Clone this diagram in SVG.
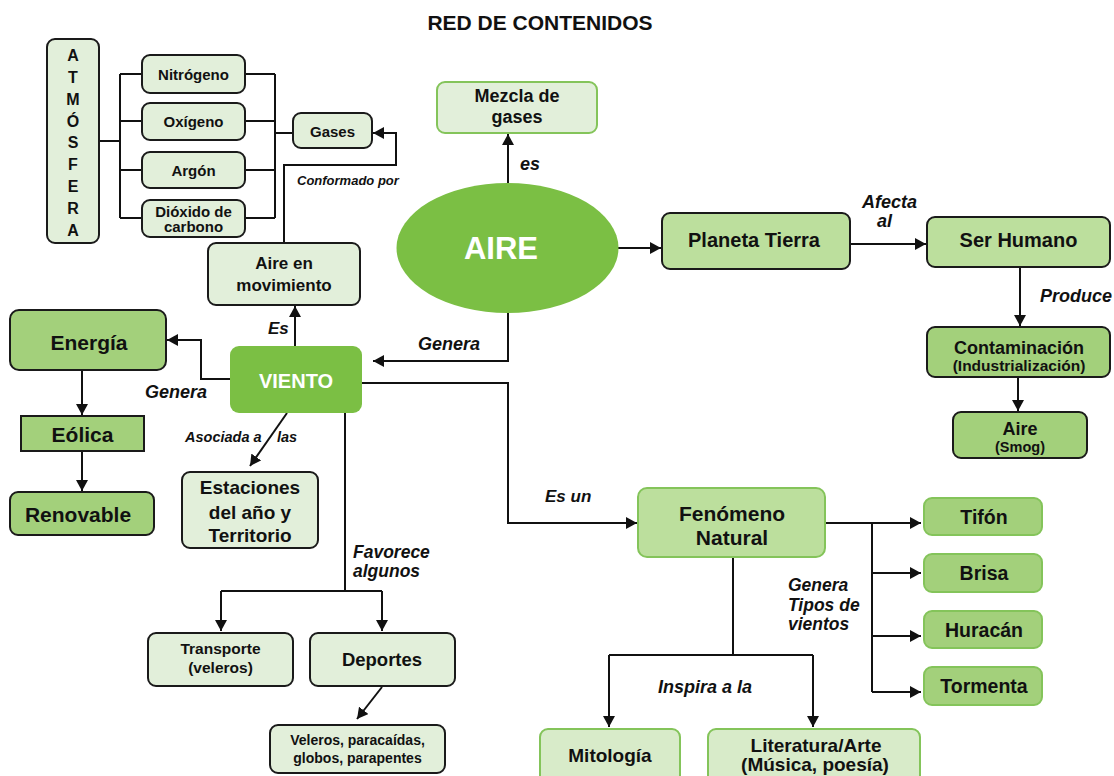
<svg xmlns="http://www.w3.org/2000/svg" width="1114" height="776" viewBox="0 0 1114 776">
<defs>
<marker id="ah" markerUnits="userSpaceOnUse" markerWidth="12" markerHeight="12" refX="11" refY="6" orient="auto">
<path d="M0,0 L11,6 L0,12 z" fill="#111"/>
</marker>
<style>
.t{font-family:"Liberation Sans",Arial,sans-serif;font-weight:bold;fill:#111;text-anchor:middle}
.l{font-family:"Liberation Sans",Arial,sans-serif;font-weight:bold;font-style:italic;fill:#111}
.w{fill:#fff}
.bl{fill:#e2efda;stroke:#1a1a1a;stroke-width:2}
.bm{fill:#bcdf9d;stroke:#1a1a1a;stroke-width:2}
.bd{fill:#a3d07b;stroke:#1a1a1a;stroke-width:2}
.gl{fill:#e2efda;stroke:#84c45a;stroke-width:2}
.gl2{fill:#d8ebc9;stroke:#84c45a;stroke-width:2}
.gm{fill:#bcdf9d;stroke:#84c45a;stroke-width:2}
.gd{fill:#a3d07b;stroke:#84c45a;stroke-width:2}
.c{fill:none;stroke:#111;stroke-width:2}
.ca{fill:none;stroke:#111;stroke-width:2;marker-end:url(#ah)}
</style>
</defs>
<rect width="1114" height="776" fill="#fff"/>
<text class="t" x="540" y="30" font-size="21">RED DE CONTENIDOS</text>

<g id="connectors">
<path class="c" d="M99,141 H120 M120,74 V218 M120,74 H142 M120,121 H142 M120,170 H142 M120,218 H142"/>
<path class="c" d="M245,74 H275 M245,121 H275 M245,170 H275 M245,218 H275 M275,74 V218 M275,133 H293"/>
<path class="ca" d="M284,243 V165 H396 V133 H373"/>
<path class="ca" d="M508,183 V134"/>
<path class="ca" d="M618,248 H661"/>
<path class="ca" d="M850,244 H926"/>
<path class="ca" d="M1020,267 V326"/>
<path class="ca" d="M1018,377 V411"/>
<path class="ca" d="M508,313 V361 H373"/>
<path class="ca" d="M295,346 V306"/>
<path class="ca" d="M230,379 H201 V340 H167"/>
<path class="ca" d="M82,370 V415"/>
<path class="ca" d="M82,451 V491"/>
<path class="ca" d="M287,413 L250,466"/>
<path class="c" d="M345,413 V591 M221,591 H382"/>
<path class="ca" d="M221,591 V631"/>
<path class="ca" d="M382,591 V631"/>
<path class="ca" d="M382,687 L357,719"/>
<path class="ca" d="M362,383 H508 V523 H637"/>
<path class="ca" d="M825,523 H921"/>
<path class="c" d="M872,523 V692"/>
<path class="ca" d="M872,573 H921"/>
<path class="ca" d="M872,636 H921"/>
<path class="ca" d="M872,692 H921"/>
<path class="c" d="M733,557 V655 M609,655 H813"/>
<path class="ca" d="M609,655 V727"/>
<path class="ca" d="M813,655 V727"/>
</g>

<g id="labels">
<text class="l" x="297" y="184.5" font-size="13">Conformado por</text>
<text class="l" x="520" y="170" font-size="18">es</text>
<text class="l" x="862" y="208" font-size="18">Afecta</text>
<text class="l" x="877" y="227" font-size="18">al</text>
<text class="l" x="1040" y="302" font-size="18">Produce</text>
<text class="l" x="418" y="349.5" font-size="18">Genera</text>
<text class="l" x="268" y="334" font-size="17">Es</text>
<text class="l" x="145" y="398" font-size="18">Genera</text>
<text class="l" x="185" y="442" font-size="14.5">Asociada a</text>
<text class="l" x="277" y="442" font-size="14.5">las</text>
<text class="l" x="353" y="558" font-size="17.5">Favorece</text>
<text class="l" x="353" y="577" font-size="17.5">algunos</text>
<text class="l" x="545" y="502" font-size="17">Es un</text>
<text class="l" x="788" y="591" font-size="17.5">Genera</text>
<text class="l" x="788" y="611" font-size="17.5">Tipos de</text>
<text class="l" x="788" y="630" font-size="17.5">vientos</text>
<text class="l" x="658" y="693" font-size="18">Inspira a la</text>
</g>

<g id="atmosfera">
<rect class="bl" x="47" y="39" width="52" height="204" rx="8"/>
<text class="t" x="73" font-size="16"><tspan x="73" y="61">A</tspan><tspan x="73" y="83">T</tspan><tspan x="73" y="105">M</tspan><tspan x="73" y="127">Ó</tspan><tspan x="73" y="148">S</tspan><tspan x="73" y="170">F</tspan><tspan x="73" y="192">E</tspan><tspan x="73" y="214">R</tspan><tspan x="73" y="236">A</tspan></text>
</g>
<g id="nitrogeno"><rect class="bl" x="142" y="55" width="103" height="38" rx="8"/><text class="t" x="193.5" y="79.5" font-size="15">Nitrógeno</text></g>
<g id="oxigeno"><rect class="bl" x="142" y="103" width="103" height="37" rx="8"/><text class="t" x="193.5" y="127" font-size="15">Oxígeno</text></g>
<g id="argon"><rect class="bl" x="142" y="152" width="103" height="36" rx="8"/><text class="t" x="193.5" y="175.5" font-size="15">Argón</text></g>
<g id="dioxido"><rect class="bl" x="142" y="200" width="103" height="37" rx="8"/><text class="t" x="193.5" y="217" font-size="15">Dióxido de</text><text class="t" x="193.5" y="232" font-size="15">carbono</text></g>
<g id="gases"><rect class="bl" x="293" y="113" width="79" height="35" rx="8"/><text class="t" x="332.5" y="136.5" font-size="15">Gases</text></g>
<g id="aire-mov"><rect class="bl" x="208" y="243" width="152" height="62" rx="8"/><text class="t" x="284" y="269" font-size="17">Aire en</text><text class="t" x="284" y="291" font-size="17">movimiento</text></g>
<g id="mezcla"><rect class="gl" x="437" y="82" width="160" height="51" rx="8"/><text class="t" x="517" y="102" font-size="18">Mezcla de</text><text class="t" x="517" y="123" font-size="18">gases</text></g>
<g id="aire"><ellipse cx="507.5" cy="248" rx="111" ry="65" fill="#7bbf44"/><text class="t w" x="501" y="259" font-size="31">AIRE</text></g>
<g id="planeta"><rect class="bm" x="662" y="213" width="188" height="56" rx="8"/><text class="t" x="754" y="247" font-size="20">Planeta Tierra</text></g>
<g id="ser-humano"><rect class="bm" x="927" y="217" width="183" height="50" rx="8"/><text class="t" x="1018.5" y="247" font-size="20">Ser Humano</text></g>
<g id="contaminacion"><rect class="bd" x="927" y="327" width="183" height="50" rx="8"/><text class="t" x="1019" y="353.5" font-size="18">Contaminación</text><text class="t" x="1019" y="370.5" font-size="15.5">(Industrialización)</text></g>
<g id="aire-smog"><rect class="bd" x="953" y="412" width="134" height="46" rx="8"/><text class="t" x="1020" y="434.5" font-size="18">Aire</text><text class="t" x="1020" y="452" font-size="14.5">(Smog)</text></g>
<g id="viento"><rect x="230" y="346" width="132" height="67" rx="9" fill="#7bbf44"/><text class="t w" x="296" y="388" font-size="20">VIENTO</text></g>
<g id="energia"><rect class="bd" x="10" y="310" width="156" height="60" rx="9"/><text class="t" x="89" y="349.5" font-size="21">Energía</text></g>
<g id="eolica"><rect class="bd" x="21" y="416" width="123" height="35"/><text class="t" x="82.5" y="441.5" font-size="21">Eólica</text></g>
<g id="renovable"><rect class="bd" x="10" y="492" width="144" height="43" rx="8"/><text class="t" x="78" y="521.5" font-size="21">Renovable</text></g>
<g id="estaciones"><rect class="bl" x="182" y="472" width="136" height="76" rx="8"/><text class="t" x="250" y="494" font-size="19">Estaciones</text><text class="t" x="250" y="518.5" font-size="19">del año y</text><text class="t" x="250" y="542" font-size="19">Territorio</text></g>
<g id="transporte"><rect class="bl" x="148" y="633" width="145" height="53" rx="8"/><text class="t" x="220.5" y="653.5" font-size="15.5">Transporte</text><text class="t" x="220.5" y="673" font-size="15.5">(veleros)</text></g>
<g id="deportes"><rect class="bl" x="310" y="633" width="145" height="53" rx="8"/><text class="t" x="382" y="665.5" font-size="18.5">Deportes</text></g>
<g id="veleros"><rect class="bl" x="270" y="725" width="175" height="48" rx="8"/><text class="t" x="357.5" y="745" font-size="14">Veleros, paracaídas,</text><text class="t" x="357.5" y="763" font-size="14">globos, parapentes</text></g>
<g id="fenomeno"><rect class="gm" x="638" y="488" width="187" height="69" rx="9"/><text class="t" x="732" y="520.5" font-size="21">Fenómeno</text><text class="t" x="732" y="544.5" font-size="21">Natural</text></g>
<g id="tifon"><rect class="gd" x="924" y="498" width="118" height="37" rx="8"/><text class="t" x="984" y="523.5" font-size="19.5">Tifón</text></g>
<g id="brisa"><rect class="gd" x="924" y="554" width="118" height="38" rx="8"/><text class="t" x="984" y="580" font-size="19.5">Brisa</text></g>
<g id="huracan"><rect class="gd" x="924" y="611" width="118" height="37" rx="8"/><text class="t" x="984" y="636.5" font-size="19.5">Huracán</text></g>
<g id="tormenta"><rect class="gd" x="924" y="667" width="118" height="38" rx="8"/><text class="t" x="984" y="693" font-size="19.5">Tormenta</text></g>
<g id="mitologia"><rect class="gl2" x="540" y="729" width="140" height="60" rx="8"/><text class="t" x="610" y="762" font-size="19">Mitología</text></g>
<g id="literatura"><rect class="gl2" x="708" y="729" width="212" height="60" rx="8"/><text class="t" x="816" y="752" font-size="19">Literatura/Arte</text><text class="t" x="815" y="771" font-size="19">(Música, poesía)</text></g>
</svg>
